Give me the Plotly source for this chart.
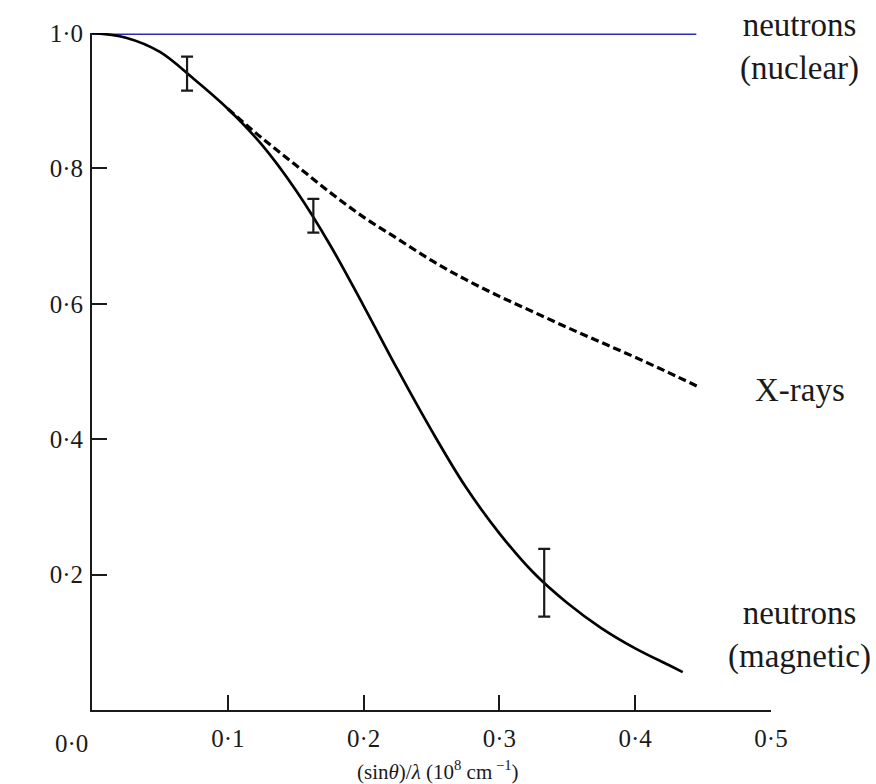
import plotly.graph_objects as go

# ---- data ----
mag_x = [0.0, 0.025, 0.05, 0.075, 0.10, 0.125, 0.15, 0.175, 0.20, 0.225, 0.25,
         0.275, 0.30, 0.325, 0.35, 0.375, 0.40, 0.425, 0.435]
mag_f = [1.0, 0.993, 0.972, 0.932, 0.888, 0.835, 0.768, 0.688, 0.597, 0.503, 0.413,
         0.330, 0.261, 0.203, 0.158, 0.121, 0.091, 0.066, 0.056]

xray_x = [0.10, 0.125, 0.15, 0.175, 0.20, 0.225, 0.25, 0.275, 0.30, 0.325, 0.35,
          0.375, 0.40, 0.425, 0.448]
xray_f = [0.888, 0.845, 0.805, 0.765, 0.728, 0.696, 0.664, 0.636, 0.611, 0.588, 0.565,
          0.543, 0.521, 0.498, 0.476]

nuc_x = [0.0, 0.445]
nuc_f = [0.998, 0.998]

err_x = [0.07, 0.163, 0.333]
err_f = [0.94, 0.73, 0.188]
err_d = [0.025, 0.025, 0.05]

x_tickvals = [0.1, 0.2, 0.3, 0.4, 0.5]
x_ticktext = ["0·1", "0·2", "0·3", "0·4", "0·5"]
y_tickvals = [0.2, 0.4, 0.6, 0.8, 1.0]
y_ticktext = ["0·2", "0·4", "0·6", "0·8", "1·0"]

FONT = "Liberation Serif, Times New Roman, serif"
INK = "#1a1a1a"

fig = go.Figure()
fig.add_trace(go.Scatter(x=nuc_x, y=nuc_f, mode="lines",
                         line=dict(color="#2a2ab8", width=1.5), cliponaxis=False))
fig.add_trace(go.Scatter(x=xray_x, y=xray_f, mode="lines", line_shape="spline",
                         line=dict(color="black", width=3.2, dash="8px,4px"), cliponaxis=False))
fig.add_trace(go.Scatter(x=mag_x, y=mag_f, mode="lines", line_shape="spline",
                         line=dict(color="black", width=2.7), cliponaxis=False))
fig.add_trace(go.Scatter(x=err_x, y=err_f, mode="markers",
                         marker=dict(size=1, color="rgba(0,0,0,0)"),
                         error_y=dict(type="data", array=err_d, visible=True,
                                      color=INK, thickness=2.2, width=6),
                         cliponaxis=False))

fig.update_layout(
    width=876, height=784, showlegend=False,
    plot_bgcolor="white", paper_bgcolor="white",
    margin=dict(l=92, r=105, t=33, b=74),
    font=dict(family=FONT, color=INK, size=25),
)
fig.update_xaxes(range=[0, 0.5], showgrid=False, zeroline=False,
                 showline=True, linecolor=INK, linewidth=2,
                 ticks="inside", ticklen=15, tickwidth=1.5, tickcolor=INK,
                 tickvals=x_tickvals, ticktext=x_ticktext, ticklabelstandoff=5,
                 tickfont=dict(family=FONT, size=25, color=INK))
fig.update_yaxes(range=[0, 1.0], showgrid=False, zeroline=False,
                 showline=True, linecolor=INK, linewidth=2,
                 ticks="inside", ticklen=15, tickwidth=1.5, tickcolor=INK,
                 tickvals=y_tickvals, ticktext=y_ticktext, ticklabelstandoff=2,
                 tickfont=dict(family=FONT, size=25, color=INK))

anns = [
    dict(x=0, y=0, xref="x", yref="y", text="0·0", showarrow=False,
         xanchor="right", yanchor="top", xshift=-2, yshift=-18,
         font=dict(family=FONT, size=25, color=INK)),
    dict(x=22, y=0.5, xref="paper", yref="y", text="<i>f</i>", showarrow=False,
         font=dict(family=FONT, size=26, color=INK)),
    dict(x=0.51, y=-0.089, xref="paper", yref="paper", xanchor="center", yanchor="middle",
         text="(sin<i>θ</i>)/<i>λ</i> (10<sup>8</sup> cm<sup> −1</sup>)", showarrow=False,
         font=dict(family=FONT, size=21, color=INK)),
    dict(x=1.0427, y=0.979, xref="paper", yref="paper", xanchor="center", yanchor="middle",
         text="neutrons<br>(nuclear)", showarrow=False, align="center",
         font=dict(family=FONT, size=33, color=INK)),
    dict(x=1.0427, y=0.473, xref="paper", yref="paper", xanchor="center", yanchor="middle",
         text="X-rays", showarrow=False,
         font=dict(family=FONT, size=33, color=INK)),
    dict(x=1.0427, y=0.111, xref="paper", yref="paper", xanchor="center", yanchor="middle",
         text="neutrons<br>(magnetic)", showarrow=False, align="center",
         font=dict(family=FONT, size=33, color=INK)),
]
fig.update_layout(annotations=anns)
fig.write_html("out.html")
